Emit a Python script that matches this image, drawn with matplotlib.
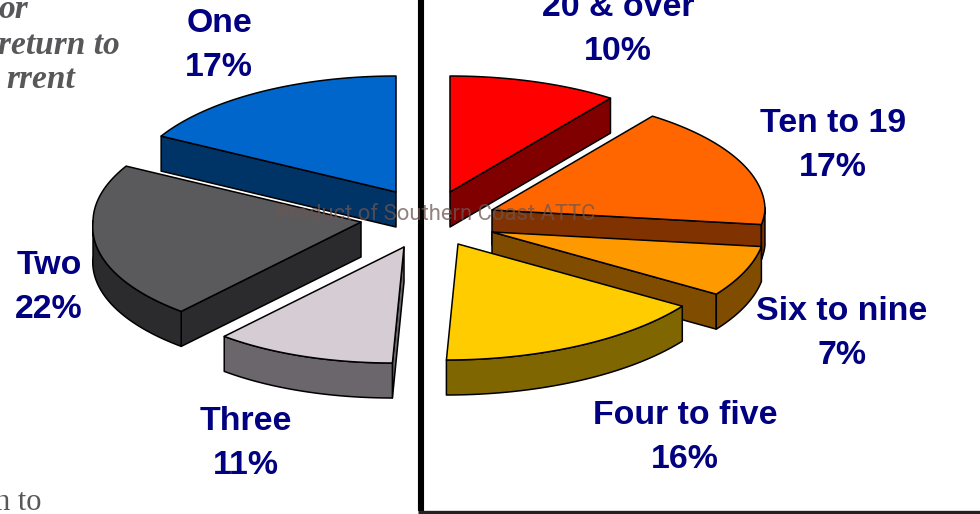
"""
Exploded 3D-style pie of visit counts, with a frame line and a watermark.
------
Output:
- out.png
"""

import numpy as np
import matplotlib
matplotlib.use('Agg')
import matplotlib.pyplot as plt
from matplotlib.patches import Polygon

# --- data (clockwise from 12 o'clock) ---
names = ['20 & over', 'Ten to 19', 'Six to nine', 'Four to five',
         'Three', 'Two', 'One']
shares = [10, 17, 7, 16, 11, 22, 17]

# --- styles ---
top_colors = ['#FF0000', '#FF6600', '#FF9900', '#FFCC00',
              '#D6CCD4', '#5A5A5C', '#0066CC']
side_colors = ['#800000', '#803300', '#804D00', '#806600',
               '#6B666B', '#2B2B2D', '#003366']

# --- layout, in pixels ---
W, H = 980, 514
RX_RIGHT, RX_LEFT, RY = 273, 268, 116
DEPTH = 35
SHEAR = -0.1          # lower half of the pie leans slightly left
CENTER = (425, 215)
offsets = [(25, -23), (67, -5), (67, 17), (33, 29),
           (-21, 32), (-64, 7), (-29, -23)]
label_pos = [(618, 8), (833, 123), (842, 312), (685, 416),
             (246, 421), (49, 265), (219, 24)]
LINE_GAP = 44
NAVY = '#000080'
GREY = '#58585A'
EDGE_LW = 1.1


def slice_outline(tip, a0, a1, n=60):
    th = np.radians(np.linspace(a0, a1, n))
    y = -RY * np.cos(th)
    rx = np.where(np.sin(th) >= 0, RX_RIGHT, RX_LEFT)
    x = rx * np.sin(th) + SHEAR * np.clip(y, 0, None)
    return np.column_stack([tip[0] + x, tip[1] + y]), th


def faces_down(a, b, inner):
    # extruded side is visible when its outward normal points down the page
    d = b - a
    nrm = np.array([d[1], -d[0]])
    if np.dot(nrm, (a + b) / 2 - inner) < 0:
        nrm = -nrm
    return nrm[1] > 1e-6


def extrude(ax, pts, color, z):
    low = pts[::-1] + [0, DEPTH]
    ax.add_patch(Polygon(np.vstack([pts, low]), closed=True, fc=color,
                         ec='black', lw=EDGE_LW, joinstyle='round', zorder=z))


def draw_slice(ax, tip, a0, a1, top, side, z):
    tip = np.array(tip, dtype=float)
    rim, th = slice_outline(tip, a0, a1)
    inner = (tip + rim.mean(axis=0)) / 2

    # cut faces first, rim in front of them, top face last
    for end in (rim[0], rim[-1]):
        if faces_down(tip, end, inner):
            extrude(ax, np.array([tip, end]), side, z)
    front = np.cos(th) < 0.02
    if front.sum() > 1:
        extrude(ax, rim[front], side, z + 0.1)
    ax.add_patch(Polygon(np.vstack([tip, rim]), closed=True, fc=top,
                         ec='black', lw=EDGE_LW, joinstyle='round',
                         zorder=z + 0.2))


def main():
    plt.rcParams['font.family'] = ['Liberation Sans', 'DejaVu Sans']

    fig = plt.figure(figsize=(W / 100, H / 100), dpi=100)
    ax = fig.add_axes([0, 0, 1, 1])
    ax.set_xlim(0, W)
    ax.set_ylim(H, 0)
    ax.axis('off')

    # --- pie slices ---
    edges = np.concatenate([[0], np.cumsum(shares)]) * 360.0 / sum(shares)
    draw_order = [0, 6, 1, 5, 2, 4, 3]
    for z, i in enumerate(draw_order):
        tip = (CENTER[0] + offsets[i][0], CENTER[1] + offsets[i][1])
        draw_slice(ax, tip, edges[i], edges[i + 1],
                   top_colors[i], side_colors[i], 2 + z)

    # --- slice labels ---
    for name, val, (x, y) in zip(names, shares, label_pos):
        for k, txt in enumerate([name, f'{val}%']):
            ax.text(x, y + k * LINE_GAP, txt, color=NAVY, fontsize=24.4,
                    fontweight='bold', ha='center', va='center', zorder=20)

    # --- frame around the right half ---
    ax.plot([421, 421], [0, 511], color='black', lw=4.4,
            solid_capstyle='butt', zorder=1)
    ax.plot([418, W], [511.5, 511.5], color='#222222', lw=2.4,
            solid_capstyle='butt', zorder=1)

    # --- neighbouring body text, cut off by the page edge ---
    for txt, x, y in [('or', 28, 9), ('return to', 120, 45), ('rrent', 75, 80)]:
        ax.text(x, y, txt, color=GREY, fontsize=24, family='Liberation Serif',
                style='italic', fontweight='bold', ha='right', va='center')
    ax.text(41, 502, 'n to', color=GREY, fontsize=22,
            family='Liberation Serif', ha='right', va='center')

    # --- watermark ---
    ax.text(435.5, 214, 'Product of Southern Coast ATTC', color='#6E5550',
            alpha=0.75, fontsize=15.8, family='Roboto', ha='center',
            va='center', zorder=30)

    fig.savefig('out.png', dpi=100)
    plt.close(fig)


if __name__ == '__main__':
    main()
